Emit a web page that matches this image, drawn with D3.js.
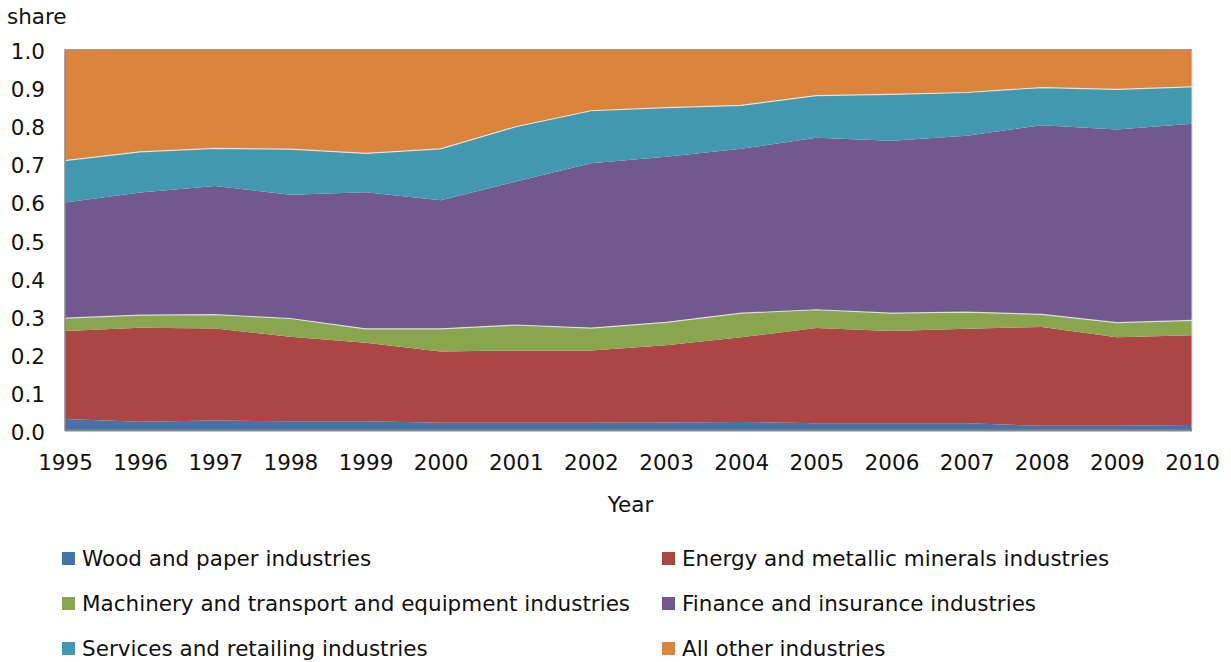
<!DOCTYPE html>
<html>
<head>
<meta charset="utf-8">
<script src="https://cdn.jsdelivr.net/npm/d3@7"></script>
<style>
  body { margin: 0; background: #fff; }
  svg text { font-family: "DejaVu Sans", Verdana, sans-serif; fill: #111; }
</style>
</head>
<body>
<svg id="chart"></svg>
<script>
// data (shares per year)
var years = [1995, 1996, 1997, 1998, 1999, 2000, 2001, 2002, 2003, 2004, 2005, 2006, 2007, 2008, 2009, 2010];
var seriesNames = [
  "Wood and paper industries",
  "Energy and metallic minerals industries",
  "Machinery and transport and equipment industries",
  "Finance and insurance industries",
  "Services and retailing industries",
  "All other industries"
];
var wood      = [0.029, 0.022, 0.025, 0.023, 0.023, 0.019, 0.019, 0.019, 0.020, 0.021, 0.018, 0.018, 0.018, 0.011, 0.011, 0.013];
var energy    = [0.231, 0.247, 0.242, 0.222, 0.206, 0.187, 0.190, 0.190, 0.203, 0.223, 0.250, 0.242, 0.248, 0.260, 0.233, 0.236];
var machinery = [0.034, 0.033, 0.036, 0.048, 0.037, 0.060, 0.067, 0.059, 0.060, 0.063, 0.048, 0.047, 0.044, 0.033, 0.038, 0.039];
var finance   = [0.304, 0.322, 0.338, 0.325, 0.359, 0.338, 0.377, 0.433, 0.435, 0.432, 0.452, 0.453, 0.463, 0.497, 0.508, 0.517];
var services  = [0.110, 0.107, 0.099, 0.120, 0.102, 0.135, 0.144, 0.138, 0.129, 0.114, 0.111, 0.122, 0.114, 0.099, 0.105, 0.097];
var other     = [0.292, 0.269, 0.260, 0.262, 0.273, 0.261, 0.203, 0.161, 0.153, 0.147, 0.121, 0.118, 0.113, 0.100, 0.105, 0.098];
var yTicks = [0, 0.1, 0.2, 0.3, 0.4, 0.5, 0.6, 0.7, 0.8, 0.9, 1.0];

var colors = ["#4572a7", "#aa4643", "#89a54e", "#71588f", "#4198af", "#db843d"];

var width = 1231, height = 662;
var mLeft = 65, mRight = 1192, mTop = 49.5, mBottom = 430;
var fontSize = 21.5;

var svg = d3.select("#chart").attr("width", width).attr("height", height);

// build rows for the stack
var allSeries = [wood, energy, machinery, finance, services, other];
var rows = years.map(function (yr, i) {
  var r = { year: yr };
  seriesNames.forEach(function (n, k) { r[n] = allSeries[k][i]; });
  return r;
});

var stacked = d3.stack().keys(seriesNames)(rows);

var x = d3.scaleLinear().domain([1995, 2010]).range([mLeft, mRight]);
var y = d3.scaleLinear().domain([0, 1]).range([mBottom, mTop]);

var area = d3.area()
  .x(function (d) { return x(d.data.year); })
  .y0(function (d) { return y(d[0]); })
  .y1(function (d) { return y(d[1]); });

svg.append("g").selectAll("path").data(stacked).enter().append("path")
  .attr("d", area)
  .attr("fill", function (d, i) { return colors[i]; });

// light edges seen on top of some layers
var topLine = d3.line()
  .x(function (d) { return x(d.data.year); })
  .y(function (d) { return y(d[1]); });
svg.append("g").selectAll("path").data([stacked[2], stacked[4]]).enter().append("path")
  .attr("d", topLine)
  .attr("fill", "none")
  .attr("stroke", "#fff")
  .attr("stroke-opacity", 0.7)
  .attr("stroke-width", 1.2);

// frame
svg.append("line").attr("x1", mLeft).attr("x2", mRight).attr("y1", mTop).attr("y2", mTop)
  .attr("stroke", "#999").attr("stroke-width", 1);
svg.append("line").attr("x1", mRight).attr("x2", mRight).attr("y1", mTop).attr("y2", mBottom)
  .attr("stroke", "#ddd").attr("stroke-width", 1);
svg.append("line").attr("x1", mLeft).attr("x2", mLeft).attr("y1", mTop).attr("y2", mBottom + 1)
  .attr("stroke", "#888").attr("stroke-width", 1.5);
svg.append("line").attr("x1", mLeft).attr("x2", mRight).attr("y1", mBottom + 0.5).attr("y2", mBottom + 0.5)
  .attr("stroke", "#888").attr("stroke-width", 2);

// y axis labels
var yAxis = svg.append("g").attr("transform", "translate(" + (mLeft - 20) + ",1.5)")
  .call(d3.axisLeft(y).tickValues(yTicks).tickFormat(d3.format(".1f")).tickSize(0).tickPadding(0));
yAxis.select(".domain").remove();
yAxis.attr("font-family", null).attr("font-size", null);
yAxis.selectAll("text").attr("font-size", fontSize).attr("dy", "0.36em").attr("fill", "#111");

// x axis labels
var xAxis = svg.append("g").attr("transform", "translate(0," + (mBottom + 24.5) + ")")
  .call(d3.axisBottom(x).tickValues(years).tickFormat(d3.format("d")).tickSize(0).tickPadding(0));
xAxis.select(".domain").remove();
xAxis.attr("font-family", null).attr("font-size", null);
xAxis.selectAll("text").attr("font-size", fontSize).attr("dy", "0.71em").attr("fill", "#111");

svg.append("text").attr("x", 7).attr("y", 24).attr("font-size", fontSize).text("share");
svg.append("text").attr("x", (mLeft + mRight) / 2 + 2).attr("y", 512)
  .attr("text-anchor", "middle").attr("font-size", fontSize).text("Year");

// legend, two columns
var legend = svg.append("g").selectAll("g").data(seriesNames).enter().append("g")
  .attr("transform", function (d, i) {
    return "translate(" + (i % 2 === 0 ? 62 : 662) + "," + (552 + Math.floor(i / 2) * 45) + ")";
  });
legend.append("rect").attr("width", 13).attr("height", 13)
  .attr("fill", function (d, i) { return colors[i]; });
legend.append("text").attr("x", 20).attr("y", 14).attr("font-size", fontSize)
  .text(function (d) { return d; });
</script>
</body>
</html>
